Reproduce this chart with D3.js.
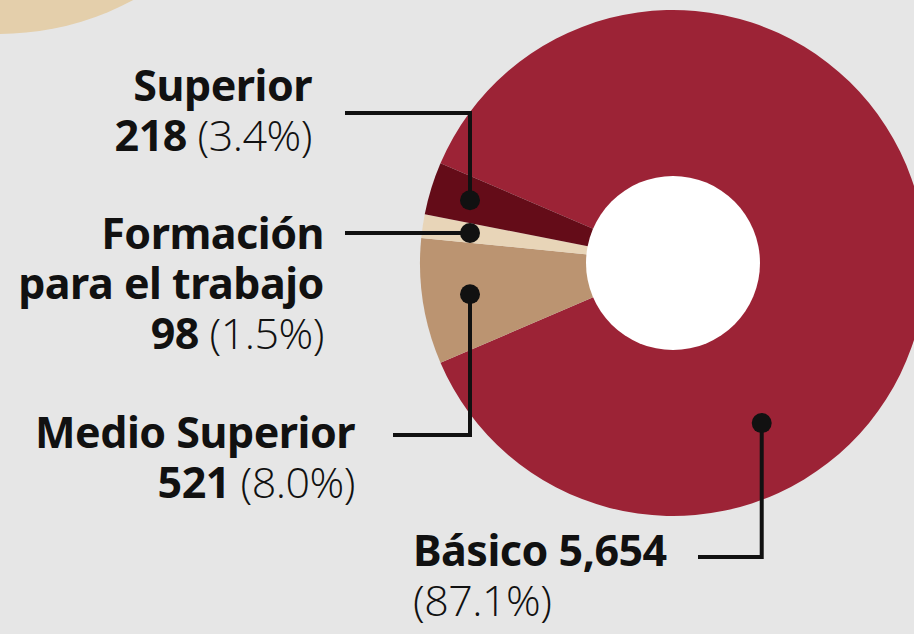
<!DOCTYPE html>
<html>
<head>
<meta charset="utf-8">
<script src="https://cdn.jsdelivr.net/npm/d3@7"></script>
<style>
  html, body { margin: 0; padding: 0; background: #e6e6e6; overflow: hidden; }
  text { font-family: "Noto Sans", "Open Sans", sans-serif; fill: #111; }
</style>
</head>
<body>
<script>
// data
var categories = ["Básico", "Medio Superior", "Formación para el trabajo", "Superior"];
var values = [5654, 521, 98, 218];
var colors = ["#9c2336", "#bb9471", "#e8d5b8", "#640c18"];
var nameLines = [["Básico"], ["Medio Superior"], ["Formación", "para el trabajo"], ["Superior"]];

var width = 914, height = 634;
var cx = 673, cy = 263, outerR = 253, holeR = 87;
var lineH = 50;

// where each label and its leader go
var layout = [
  { anchor: "start", x: 413, y: 566, inline: true, dotAngle: 151, dotR: 183, elbowY: 557, lineEnd: 698 },
  { anchor: "end", x: 355, y: 448, elbowY: 435, lineEnd: 393 },
  { anchor: "end", x: 324, y: 249, elbowY: null, lineEnd: 345 },
  { anchor: "end", x: 312, y: 101, elbowY: 113, lineEnd: 345 }
];

var total = d3.sum(values);
var fmtN = d3.format(",");
var fmtP = d3.format(".1%");

var data = categories.map(function(c, i) {
  return { name: c, value: values[i], color: colors[i], lines: nameLines[i], lay: layout[i] };
});

var svg = d3.select("body").append("svg")
  .attr("width", width)
  .attr("height", height);

svg.append("rect").attr("width", width).attr("height", height).attr("fill", "#e6e6e6");

// beige shape in the corner
svg.append("circle")
  .attr("cx", -2).attr("cy", -253).attr("r", 287)
  .attr("fill", "#e4cfab");

// small slices centred on the left side
var smallFrac = (total - values[0]) / total;
var start = 1.5 * Math.PI + smallFrac * Math.PI;

var pie = d3.pie()
  .sort(null)
  .value(function(d) { return d.value; })
  .startAngle(start)
  .endAngle(start + 2 * Math.PI);

var arc = d3.arc().innerRadius(0).outerRadius(outerR);

var g = svg.append("g").attr("transform", "translate(" + cx + "," + cy + ")");

var arcs = pie(data);

g.selectAll("path")
  .data(arcs)
  .enter()
  .append("path")
  .attr("d", arc)
  .attr("fill", function(d) { return d.data.color; });

g.append("circle").attr("r", holeR).attr("fill", "#fff");

// dots and leader lines
arcs.forEach(function(a) {
  var lay = a.data.lay;
  var ang, r;
  if (lay.dotAngle != null) {
    ang = lay.dotAngle * Math.PI / 180;
    r = lay.dotR;
  } else {
    ang = (a.startAngle + a.endAngle) / 2;
    r = (cx - 470) / Math.abs(Math.sin(ang));
  }
  var dx = cx + r * Math.sin(ang);
  var dy = cy - r * Math.cos(ang);
  var ey = lay.elbowY == null ? dy : lay.elbowY;

  svg.append("path")
    .attr("d", "M" + dx + "," + dy + "V" + ey + "H" + lay.lineEnd)
    .attr("fill", "none")
    .attr("stroke", "#111")
    .attr("stroke-width", 4);

  svg.append("circle")
    .attr("cx", dx).attr("cy", dy).attr("r", 10)
    .attr("fill", "#111");
});

// labels, one text per line
data.forEach(function(d) {
  var lay = d.lay;
  var pct = "(" + fmtP(d.value / total) + ")";
  var y = lay.y;

  function line(yy) {
    return svg.append("text")
      .attr("x", lay.x)
      .attr("y", yy)
      .attr("text-anchor", lay.anchor)
      .style("font-size", "43px")
      .style("letter-spacing", "-0.5px");
  }

  d.lines.forEach(function(l, i) {
    line(y + i * lineH)
      .style("font-weight", 700)
      .text(lay.inline ? l + " " + fmtN(d.value) : l);
  });

  var t = line(y + d.lines.length * lineH);
  if (!lay.inline) {
    t.append("tspan").style("font-weight", 700).text(fmtN(d.value) + " ");
  }
  t.append("tspan")
    .style("font-family", "'Open Sans', 'Noto Sans', sans-serif")
    .style("font-weight", 300)
    .text(pct);
});
</script>
</body>
</html>
